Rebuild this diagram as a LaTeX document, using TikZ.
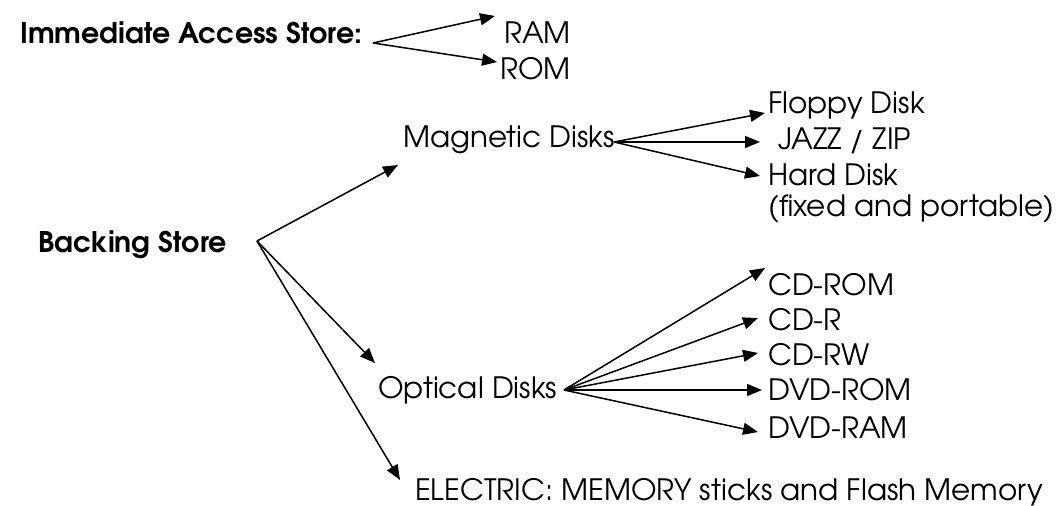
\documentclass[tikz,border=0pt]{standalone}
\usepackage{fontspec}
\setmainfont{TeX Gyre Adventor}
\usetikzlibrary{arrows.meta,calc}
\begin{document}
\begin{tikzpicture}[x=1pt,y=-1pt,
  lbl/.style={anchor=west,inner sep=0pt,font=\fontsize{29.4}{34}\selectfont},
  blbl/.style={anchor=west,inner sep=0pt,font=\fontsize{28.4}{34}\selectfont\bfseries},
  arr/.style={line width=1.5pt,-{Triangle[length=15pt,width=12pt]}}]
\useasboundingbox (0,0) rectangle (1063,506);
% texts
\node[blbl] (ias) at (20,33) {Immediate Access Store:};
\node[lbl] (ram) at (504,33) {RAM};
\node[lbl] (rom) at (500,69) {ROM};
\node[lbl] (mag) at (403,140) {Magnetic Disks};
\node[lbl] (floppy) at (768,105) {Floppy Disk};
\node[lbl] (jazz) at (778,141) {JAZZ / ZIP};
\node[lbl] (hard) at (768,175) {Hard Disk};
\node[lbl] (fixed) at (768,209) {(fixed and portable)};
\node[blbl] (back) at (38,245) {Backing Store};
\node[lbl] (opt) at (378,390) {Optical Disks};
\node[lbl] (cdrom) at (768,285) {CD-ROM};
\node[lbl] (cdr) at (768,320) {CD-R};
\node[lbl] (cdrw) at (768,355) {CD-RW};
\node[lbl] (dvdrom) at (768,390) {DVD-ROM};
\node[lbl] (dvdram) at (768,428) {DVD-RAM};
\node[lbl] (elec) at (415,492) {ELECTRIC: MEMORY sticks and Flash Memory};
% branch points
\coordinate (iasB) at (373,43);
\coordinate (magB) at (614,142);
\coordinate (backB) at (257,241);
\coordinate (optB) at (564,390);
% arrows
\draw[arr] (iasB) -- ($(ram.west)+(-9,-17)$);
\draw[arr] (iasB) -- ($(rom.west)+(-3,-7)$);
\draw[arr] (magB) -- ($(floppy.west)+(-3,8)$);
\draw[arr] (magB) -- ($(jazz.west)+(-18,1)$);
\draw[arr] (magB) -- ($(hard.west)+(-8,1)$);
\draw[arr] (backB) -- ($(mag.west)+(-5,25)$);
\draw[arr] (backB) -- ($(opt.west)+(-3,-27)$);
\draw[arr] (backB) -- ($(elec.west)+(-15,-12)$);
\draw[arr] (optB) -- ($(cdrom.west)+(-3,-17)$);
\draw[arr] (optB) -- ($(cdr.west)+(-10,-2)$);
\draw[arr] (optB) -- ($(cdrw.west)+(-10,-2)$);
\draw[arr] (optB) -- ($(dvdrom.west)+(-6,0)$);
\draw[arr] (optB) -- ($(dvdram.west)+(-10,4)$);
\end{tikzpicture}
\end{document}
